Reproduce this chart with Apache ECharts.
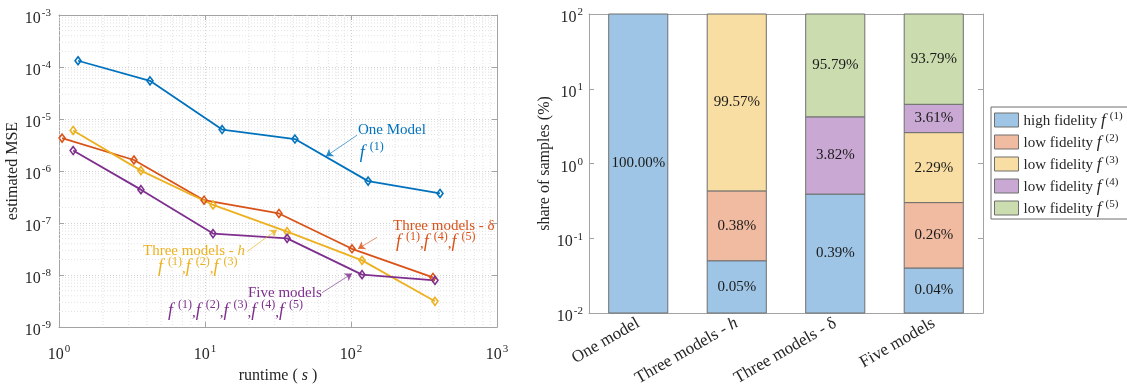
<!DOCTYPE html>
<html>
<head>
<meta charset="utf-8">
<script src="https://cdn.jsdelivr.net/npm/echarts@6/dist/echarts.min.js"></script>
<style>
  html, body { margin: 0; padding: 0; background: #fff; }
  #main { width: 1127px; height: 389px; }
</style>
</head>
<body>
<div id="main"></div>
<script>
// ---- Left panel: estimated MSE against runtime (s), log-log ----
const runtimeOne   = [1.35, 4.2, 13.1, 41.3, 131, 407];
const mseOne       = [1.32e-4, 5.42e-5, 6.28e-6, 4.12e-6, 6.41e-7, 3.71e-7];
const runtimeDelta = [1.05, 3.26, 9.85, 32.1, 101.6, 364];
const mseDelta     = [4.30e-6, 1.63e-6, 2.75e-7, 1.53e-7, 3.20e-8, 9.0e-9];
const runtimeH     = [1.25, 3.64, 11.35, 36.5, 119, 376];
const mseH         = [6.03e-6, 1.02e-6, 2.23e-7, 6.84e-8, 1.92e-8, 3.13e-9];
const runtimeFive  = [1.25, 3.64, 11.35, 36.5, 119, 376];
const mseFive      = [2.48e-6, 4.39e-7, 6.28e-8, 5.09e-8, 1.02e-8, 7.92e-9];

// ---- Right panel: share of samples (%) per model level ----
const categories = ['One model', 'Three models - h', 'Three models - δ', 'Five models'];
const shareF1 = [100.00, 0.05, 0.39, 0.04];
const shareF2 = [null, 0.38, null, 0.26];
const shareF3 = [null, 99.57, null, 2.29];
const shareF4 = [null, null, 3.82, 3.61];
const shareF5 = [null, null, 95.79, 93.79];
const levelNames = ['high fidelity f(1)', 'low fidelity f(2)', 'low fidelity f(3)', 'low fidelity f(4)', 'low fidelity f(5)'];

const SERIF = "'Liberation Serif', 'DejaVu Serif', serif";
const INK = '#262626';
const BOX = '#a3a3a3';
const C_BLUE = '#0072BD', C_ORANGE = '#D95319', C_YELLOW = '#EDB120', C_PURPLE = '#7E2F8E';
const BAR_COLORS = ['#9ec5e5', '#f1bba1', '#f8dea2', '#c9a9d3', '#cbddaf'];

const chart = echarts.init(document.getElementById('main'));

// power-of-ten tick labels with a raised exponent
const powRich = {
  b: { fontSize: 16, fontFamily: SERIF, color: INK, verticalAlign: 'bottom', lineHeight: 24 },
  s: { fontSize: 11, fontFamily: SERIF, color: INK, verticalAlign: 'bottom', lineHeight: 24, padding: [0, 0, 8, 1] }
};
const pow10 = v => '{b|10}{s|' + Math.round(Math.log10(v)) + '}';

// "f^(n)" pieces for annotations and legend
function fSup(n) { return '{fi|f}{sp|(' + n + ')}'; }
function noteRich(color) {
  return {
    t:  { fontSize: 15, fontFamily: SERIF, color: color, verticalAlign: 'bottom', lineHeight: 22 },
    it: { fontSize: 15, fontFamily: SERIF, fontStyle: 'italic', color: color, verticalAlign: 'bottom', lineHeight: 22 },
    fi: { fontSize: 18, fontFamily: SERIF, fontStyle: 'italic', color: color, verticalAlign: 'bottom', lineHeight: 22 },
    sp: { fontSize: 12, fontFamily: SERIF, color: color, verticalAlign: 'bottom', lineHeight: 22, padding: [0, 0, 9, 5] }
  };
}

// annotation texts and arrows, placed in data coordinates
const notes = {
  one: {
    lines: [{ text: '{t|One Model}', at: [111.6, 8.45e-6], dy: 4 }, { text: fSup(1), at: [115, 3.33e-6], dy: 7 }],
    arrow: [[109.9, 4.88e-6], [67.4, 1.92e-6]]
  },
  delta: {
    lines: [{ text: '{t|Three models - δ}', at: [194, 1.24e-7], dy: 4 },
            { text: fSup(1) + '{t|,}' + fSup(4) + '{t|,}' + fSup(5), at: [203, 6.3e-8], dy: 7 }],
    arrow: [[150.7, 5.31e-8], [111.7, 3.2e-8]]
  },
  h: {
    lines: [{ text: '{t|Three models - }{it|h}', at: [3.76, 4.12e-8], dy: 4 },
            { text: fSup(1) + '{t|,}' + fSup(2) + '{t|,}' + fSup(3), at: [4.77, 2.09e-8], dy: 7 }],
    arrow: [[19.4, 2.82e-8], [31.1, 7.45e-8]]
  },
  five: {
    lines: [{ text: '{t|Five models}', at: [19.7, 6.41e-9], dy: 4 },
            { text: fSup(1) + '{t|,}' + fSup(2) + '{t|,}' + fSup(3) + '{t|,}' + fSup(4) + '{t|,}' + fSup(5), at: [5.58, 3.0e-9], dy: 7 }],
    arrow: [[63.3, 4.58e-9], [101.6, 1.07e-8]]
  }
};

function lineSeries(name, xs, ys, color, note) {
  return {
    type: 'line', name: name, xAxisIndex: 0, yAxisIndex: 0, z: 4,
    data: xs.map((x, i) => [x, ys[i]]),
    symbol: 'diamond', symbolSize: [6, 8],
    lineStyle: { color: color, width: 1.8 },
    itemStyle: { color: 'rgba(255,255,255,0)', borderColor: color, borderWidth: 1.6 },
    emphasis: { disabled: true },
    markPoint: {
      silent: true, animation: false,
      data: note.lines.map(l => ({
        coord: l.at, symbol: 'rect', symbolSize: 0,
        label: { show: true, position: 'right', distance: 0, offset: [0, l.dy], color: color,
                 formatter: () => l.text, rich: noteRich(color) }
      }))
    },
    markLine: {
      silent: true, animation: false, symbol: ['none', 'arrow'], symbolSize: 7,
      lineStyle: { color: color, width: 0.8, type: 'solid', opacity: 0.8 },
      label: { show: false },
      data: [[{ coord: note.arrow[0] }, { coord: note.arrow[1] }]]
    }
  };
}

// minor log grid lines (2..9 within each decade) for the left panel
const minorGrid = [];
for (let e = 0; e < 3; e++) for (let m = 2; m <= 9; m++) minorGrid.push([m * Math.pow(10, e), 1e-6, 0]);
for (let e = -9; e < -3; e++) for (let m = 2; m <= 9; m++) minorGrid.push([10, m * Math.pow(10, e), 1]);

// stacked segments on the log axis: each level sits on top of the previous ones
const shares = [shareF1, shareF2, shareF3, shareF4, shareF5];
const Y_MIN = 0.01;
const segData = shares.map(() => []);
categories.forEach((c, ci) => {
  let cum = 0;
  shares.forEach((arr, li) => {
    const v = arr[ci];
    if (v == null) return;
    const lo = Math.max(cum, Y_MIN), hi = cum + v;
    segData[li].push([ci, lo, hi, v]);
    cum = hi;
  });
});

function renderSegment(params, api) {
  const ci = api.value(0), lo = api.value(1), hi = api.value(2), share = api.value(3);
  const top = api.coord([ci, hi]);
  const bot = api.coord([ci, lo]);
  const mid = api.coord([ci, Math.sqrt(lo * hi)]);
  const w = api.size([1, 0])[0] * 0.6;
  return {
    type: 'group',
    children: [
      { type: 'rect', shape: { x: top[0] - w / 2, y: top[1], width: w, height: bot[1] - top[1] },
        style: { fill: api.visual('color'), stroke: '#6f6f6f', lineWidth: 1 } },
      { type: 'text', style: { text: share.toFixed(2) + '%', x: mid[0], y: mid[1],
        textAlign: 'center', textVerticalAlign: 'middle', fontFamily: SERIF, fontSize: 15, fill: '#1a1a1a' } }
    ]
  };
}

const barSeries = levelNames.map((name, li) => ({
  type: 'custom', name: name, xAxisIndex: 2, yAxisIndex: 2, z: 3,
  itemStyle: { color: BAR_COLORS[li] },
  encode: { x: 0, y: [1, 2] },
  renderItem: renderSegment,
  data: segData[li]
}));

const logAxisCommon = {
  axisLine: { show: true, lineStyle: { color: BOX, width: 1 } },
  axisTick: { show: true, inside: true, length: 5, lineStyle: { color: BOX } },
};

const option = {
  animation: false,
  backgroundColor: '#fff',
  grid: [
    { left: 59, top: 15, width: 438, height: 327 },
    { left: 589, top: 14, width: 394, height: 299 }
  ],
  xAxis: [
    Object.assign({ type: 'log', gridIndex: 0, min: 1, max: 1000, logBase: 10,
      axisLabel: { formatter: pow10, rich: powRich, margin: 12 },
      splitLine: { show: true, lineStyle: { color: '#d2d2d2', type: [1, 2], width: 1 } },
      name: '{t|runtime ( }{i|s}{t| )}', nameLocation: 'middle', nameGap: 32,
      nameTextStyle: { rich: {
        t: { fontSize: 16, fontFamily: SERIF, color: INK },
        i: { fontSize: 16, fontFamily: SERIF, fontStyle: 'italic', color: INK } } }
    }, logAxisCommon),
    Object.assign({ type: 'log', gridIndex: 0, min: 1, max: 1000, position: 'top',
      axisLabel: { show: false }, splitLine: { show: false } }, logAxisCommon),
    { type: 'category', gridIndex: 1, data: categories,
      axisLine: { show: true, lineStyle: { color: BOX } },
      axisTick: { show: true, inside: true, alignWithLabel: true, length: 5, lineStyle: { color: BOX } },
      axisLabel: { rotate: 30, margin: 9, interval: 0,
        formatter: v => v.endsWith(' h') ? '{n|' + v.slice(0, -1) + '}{i|h}' : '{n|' + v + '}',
        rich: { n: { fontSize: 17, fontFamily: SERIF, color: INK },
                i: { fontSize: 17, fontFamily: SERIF, fontStyle: 'italic', color: INK } } }
    },
    { type: 'category', gridIndex: 1, data: categories, position: 'top',
      axisLine: { show: true, lineStyle: { color: BOX } },
      axisTick: { show: true, inside: true, alignWithLabel: true, length: 5, lineStyle: { color: BOX } },
      axisLabel: { show: false } }
  ],
  yAxis: [
    Object.assign({ type: 'log', gridIndex: 0, min: 1e-9, max: 1e-3, logBase: 10,
      axisLabel: { formatter: pow10, rich: powRich, margin: 8 },
      splitLine: { show: true, lineStyle: { color: '#d2d2d2', type: [1, 2], width: 1 } },
      name: 'estimated MSE', nameLocation: 'middle', nameGap: 34,
      nameTextStyle: { fontSize: 16, fontFamily: SERIF, color: INK }
    }, logAxisCommon),
    Object.assign({ type: 'log', gridIndex: 0, min: 1e-9, max: 1e-3, position: 'right',
      axisLabel: { show: false }, splitLine: { show: false } }, logAxisCommon),
    Object.assign({ type: 'log', gridIndex: 1, min: 0.01, max: 100, logBase: 10,
      axisLabel: { formatter: pow10, rich: powRich, margin: 6 },
      splitLine: { show: false },
      name: 'share of samples (%)', nameLocation: 'middle', nameGap: 31,
      nameTextStyle: { fontSize: 16, fontFamily: SERIF, color: INK }
    }, logAxisCommon),
    Object.assign({ type: 'log', gridIndex: 1, min: 0.01, max: 100, position: 'right',
      axisLabel: { show: false }, splitLine: { show: false } }, logAxisCommon)
  ],
  legend: {
    orient: 'vertical', left: 991, top: 107,
    padding: [4, 8, 2, 3], itemGap: 4, itemWidth: 24, itemHeight: 14,
    borderColor: '#6f6f6f', borderWidth: 1, selectedMode: false,
    data: levelNames.map((n, i) => ({ name: n, icon: 'rect',
      itemStyle: { color: BAR_COLORS[i], borderColor: '#6f6f6f', borderWidth: 1 } })),
    formatter: n => '{t|' + n.replace(/ f\(\d\)$/, ' ') + '}' + fSup(n.match(/\((\d)\)$/)[1]),
    textStyle: { fontFamily: SERIF, fontSize: 15, color: INK, lineHeight: 18, rich: {
      t:  { fontSize: 15, fontFamily: SERIF, color: INK, verticalAlign: 'bottom', lineHeight: 18 },
      fi: { fontSize: 17, fontFamily: SERIF, fontStyle: 'italic', color: INK, verticalAlign: 'bottom', lineHeight: 18 },
      sp: { fontSize: 11, fontFamily: SERIF, color: INK, verticalAlign: 'bottom', lineHeight: 18, padding: [0, 0, 7, 4] }
    } }
  },
  series: [
    {
      type: 'custom', name: 'minor grid', xAxisIndex: 0, yAxisIndex: 0, z: 1, silent: true,
      encode: { x: 0, y: 1 },
      data: minorGrid,
      renderItem: function (params, api) {
        const cs = params.coordSys;
        if (api.value(2) === 0) {
          const x = api.coord([api.value(0), 1e-6])[0];
          return { type: 'line', shape: { x1: x, y1: cs.y, x2: x, y2: cs.y + cs.height },
                   style: { stroke: '#e2e2e2', lineWidth: 1, lineDash: [1, 2] } };
        }
        const y = api.coord([10, api.value(1)])[1];
        return { type: 'line', shape: { x1: cs.x, y1: y, x2: cs.x + cs.width, y2: y },
                 style: { stroke: '#e2e2e2', lineWidth: 1, lineDash: [1, 2] } };
      }
    },
    lineSeries('One Model', runtimeOne, mseOne, C_BLUE, notes.one),
    lineSeries('Three models - δ', runtimeDelta, mseDelta, C_ORANGE, notes.delta),
    lineSeries('Three models - h', runtimeH, mseH, C_YELLOW, notes.h),
    lineSeries('Five models', runtimeFive, mseFive, C_PURPLE, notes.five)
  ].concat(barSeries)
};

chart.setOption(option);
</script>
</body>
</html>
